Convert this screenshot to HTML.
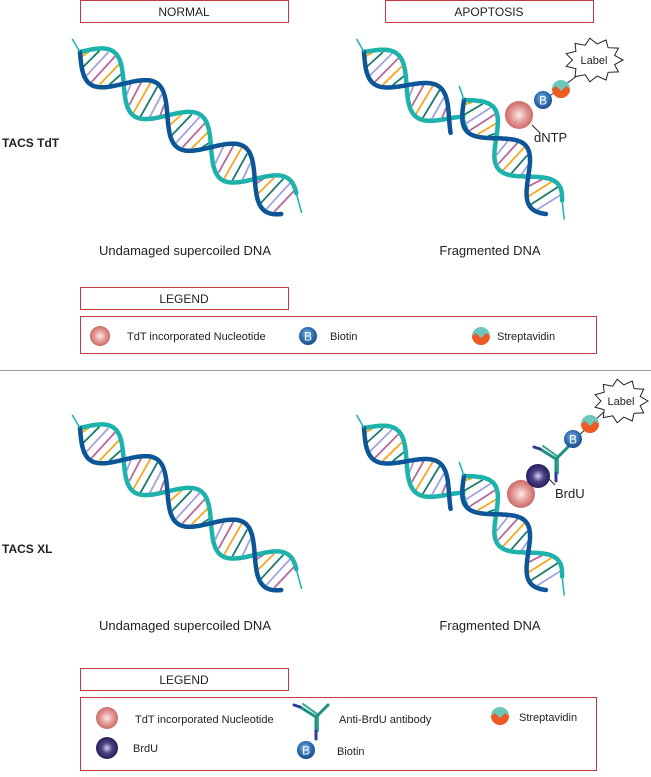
<!DOCTYPE html>
<html><head><meta charset="utf-8">
<style>
html,body{margin:0;padding:0;background:#fff;}
body{width:651px;height:772px;overflow:hidden;font-family:"Liberation Sans",sans-serif;}
svg text{font-family:"Liberation Sans",sans-serif;}
</style></head>
<body>
<svg id="s" width="651" height="772" viewBox="0 0 651 772" xmlns="http://www.w3.org/2000/svg">
<defs>
<radialGradient id="gp" cx="0.5" cy="0.5" r="0.55"><stop offset="0" stop-color="#fbeaea"/><stop offset="0.5" stop-color="#e49b98"/><stop offset="1" stop-color="#c55f5d"/></radialGradient>
<radialGradient id="gd" cx="0.5" cy="0.5" r="0.55"><stop offset="0" stop-color="#d8d0ee"/><stop offset="0.45" stop-color="#4a3f86"/><stop offset="1" stop-color="#1e1850"/></radialGradient>
<radialGradient id="gb" cx="0.45" cy="0.4" r="0.6"><stop offset="0" stop-color="#8ab8e6"/><stop offset="0.6" stop-color="#2e6fb3"/><stop offset="1" stop-color="#1b4d8c"/></radialGradient>
<g id="strep"><circle r="9" fill="#6cc8bd"/><path d="M-9,0 L-5,-3 L0,2 L5,-3 L9,0 A9,9 0 0 1 -9,0Z" fill="#ee5a24"/></g>
<g id="bio"><circle r="9" fill="url(#gb)"/><text x="0" y="4.5" font-size="12" fill="#fff" text-anchor="middle">B</text></g>
<g id="ab" fill="none" stroke-linecap="round">
 <path d="M0,0 L0,14" stroke="#1f8f7f" stroke-width="3"/>
 <path d="M2,0 L2,14" stroke="#3aa99a" stroke-width="2"/>
 <path d="M0,0 L-16,-10" stroke="#1f8f7f" stroke-width="3"/>
 <path d="M1,-3 L-13,-13" stroke="#3aa99a" stroke-width="2"/>
 <path d="M0,0 L12,-12" stroke="#1f8f7f" stroke-width="3"/>
 <path d="M0,14 L0,22" stroke="#2c3d9a" stroke-width="3"/>
 <path d="M-16,-10 L-22,-12" stroke="#2c3d9a" stroke-width="3"/>
</g>
</defs>
<g fill="none" stroke="#c0393f" stroke-width="1">
<rect x="80.5" y="0.5" width="208" height="22"/>
<rect x="385.5" y="0.5" width="208" height="22"/>
<rect x="80.5" y="287.5" width="208" height="22"/>
<rect x="80.5" y="316.5" width="516" height="37"/>
<rect x="80.5" y="668.5" width="208" height="22"/>
<rect x="80.5" y="697.5" width="516" height="73"/>
</g>
<g font-size="12" fill="#222" text-anchor="middle">
<text x="184" y="16">NORMAL</text>
<text x="489" y="16">APOPTOSIS</text>
<text x="184" y="303">LEGEND</text>
<text x="184" y="684">LEGEND</text>
</g>
<g font-size="13" fill="#222" text-anchor="middle">
<text x="185" y="255">Undamaged supercoiled DNA</text>
<text x="490" y="255">Fragmented DNA</text>
<text x="185" y="630">Undamaged supercoiled DNA</text>
<text x="490" y="630">Fragmented DNA</text>
</g>
<text x="2" y="147" font-size="12" font-weight="bold" fill="#222">TACS TdT</text>
<text x="2" y="553" font-size="12" font-weight="bold" fill="#222">TACS XL</text>
<line x1="0" y1="370.5" x2="651" y2="370.5" stroke="#999" stroke-width="1"/>
<g id="helices"></g>
<path d="M532,125 L540,133" stroke="#222" stroke-width="1"/>
<line x1="543" y1="100" x2="562" y2="88" stroke="#222"/>
<line x1="566" y1="84" x2="585" y2="70" stroke="#222"/>
<circle cx="519" cy="115" r="14" fill="url(#gp)"/>
<use href="#bio" x="543" y="100"/>
<use href="#strep" x="561" y="89"/>
<polygon id="burst1" fill="#fff" stroke="#222" stroke-width="1"/>
<text x="594" y="64" font-size="11" text-anchor="middle" fill="#222">Label</text>
<text x="534" y="142" font-size="13" fill="#222">dNTP</text>
<line x1="555" y1="485" x2="548" y2="478" stroke="#222"/>
<use href="#ab" x="556" y="459"/>
<line x1="574" y1="440" x2="589" y2="426" stroke="#222"/>
<line x1="595" y1="420" x2="606" y2="410" stroke="#222"/>
<circle cx="521" cy="494" r="14" fill="url(#gp)"/>
<circle cx="538" cy="476" r="12" fill="url(#gd)"/>
<use href="#bio" x="573" y="439"/>
<use href="#strep" x="590" y="424"/>
<polygon id="burst2" fill="#fff" stroke="#222" stroke-width="1"/>
<text x="621" y="405" font-size="11" text-anchor="middle" fill="#222">Label</text>
<text x="555" y="498" font-size="13" fill="#222">BrdU</text>
<circle cx="100" cy="336" r="10" fill="url(#gp)"/>
<text x="127" y="340" font-size="11" fill="#222">TdT incorporated Nucleotide</text>
<use href="#bio" x="308" y="336"/>
<text x="330" y="340" font-size="11" fill="#222">Biotin</text>
<use href="#strep" x="481" y="336"/>
<text x="497" y="340" font-size="11" fill="#222">Streptavidin</text>
<circle cx="107" cy="718" r="11" fill="url(#gp)"/>
<text x="135" y="723" font-size="11" fill="#222">TdT incorporated Nucleotide</text>
<use href="#ab" x="316" y="717"/>
<text x="339" y="723" font-size="11" fill="#222">Anti-BrdU antibody</text>
<use href="#strep" x="500" y="716"/>
<text x="519" y="721" font-size="11" fill="#222">Streptavidin</text>
<circle cx="107" cy="748" r="11" fill="url(#gd)"/>
<text x="133" y="752" font-size="11" fill="#222">BrdU</text>
<use href="#bio" x="306" y="750"/>
<text x="337" y="755" font-size="11" fill="#222">Biotin</text>
</svg>
<script>
(function(){
var NS="http://www.w3.org/2000/svg";
var G=document.getElementById("helices");
function el(t,a){var e=document.createElementNS(NS,t);for(var k in a)e.setAttribute(k,a[k]);G.appendChild(e);return e;}
var cols=["#f5a623","#1a7a6a","#a4a2dc","#b8679a"];
function helix(x0,y0,ang,len,per,amp){
  var t0=0,t1=len;
  var c=Math.cos(ang*Math.PI/180),s=Math.sin(ang*Math.PI/180);
  function P(u,v){return [x0+u*c-v*s,y0+u*s+v*c];}
  var u,k=0;
  for(u=t0+5;u<t1-4;u+=8){
    var va=amp*Math.sin(2*Math.PI*u/per), vb=-va;
    if(Math.abs(va)<5){continue;}
    var p=P(u-2,va*0.9),q=P(u+2,vb*0.9);
    el("line",{x1:p[0],y1:p[1],x2:q[0],y2:q[1],stroke:cols[k%4],"stroke-width":1.8});k++;
  }
  function strand(sign,color,w){
    var pts=[];
    for(u=t0;u<=t1;u+=1){var v=sign*amp*Math.sin(2*Math.PI*u/per);var p=P(u,v);pts.push(p[0].toFixed(1)+","+p[1].toFixed(1));}
    el("polyline",{points:pts.join(" "),fill:"none",stroke:color,"stroke-width":w,"stroke-linecap":"round"});
  }
  strand(-1,"#1eb2ad",4.5);
  strand(1,"#0c5697",4.5);
  var a=P(t0-14,-amp*0.3),b=P(t0,0);
  el("line",{x1:a[0],y1:a[1],x2:b[0],y2:b[1],stroke:"#1eb2ad","stroke-width":1.5});
  a=P(t1,-amp*Math.sin(2*Math.PI*t1/per));b=P(t1+16,0);
  el("line",{x1:a[0],y1:a[1],x2:b[0],y2:b[1],stroke:"#1eb2ad","stroke-width":1.5});
}
helix(80,52,36,258,108,20);
helix(80,428,36,258,108,20);
helix(364,52,38,118,108,19);
helix(464,100,50,140,100,18);
helix(364,428,38,118,108,19);
helix(464,476,50,140,100,18);
function burst(id,cx,cy,rx,ry,n){
  var p=[];for(var i=0;i<2*n;i++){var a=Math.PI*i/n;var r=(i%2?0.74:1);p.push((cx+rx*r*Math.cos(a)).toFixed(1)+","+(cy+ry*r*Math.sin(a)).toFixed(1));}
  document.getElementById(id).setAttribute("points",p.join(" "));
}
burst("burst1",594,60,29,22,11);
burst("burst2",621,401,27,22,11);
})();
</script>
</body></html>
